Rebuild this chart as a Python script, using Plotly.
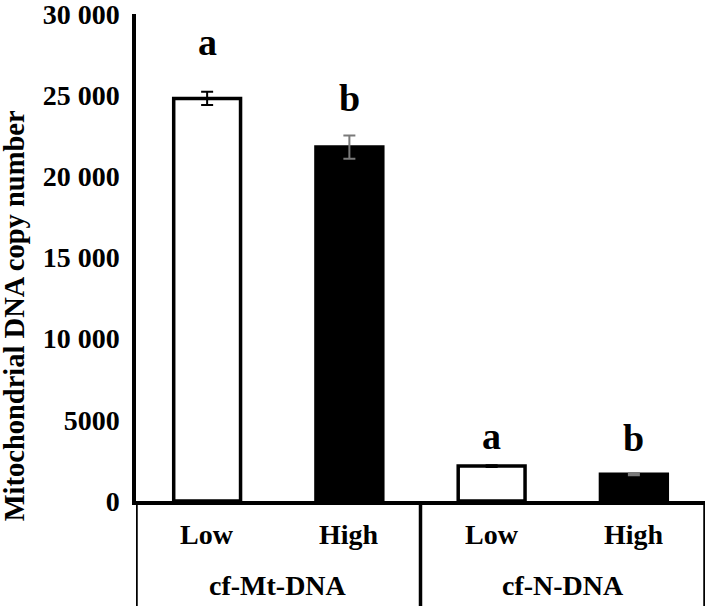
import plotly.graph_objects as go

# ---- data ----
categories = ["cf-Mt-DNA Low", "cf-Mt-DNA High", "cf-N-DNA Low", "cf-N-DNA High"]
level_labels = ["Low", "High", "Low", "High"]
group_labels = ["cf-Mt-DNA", "cf-N-DNA"]
low_cats = ["cf-Mt-DNA Low", "cf-N-DNA Low"]
low_values = [24800, 2150]
low_errors = [410, 50]
high_cats = ["cf-Mt-DNA High", "cf-N-DNA High"]
high_values = [21800, 1650]
high_errors = [720, 60]
sig_letters = ["a", "b", "a", "b"]
tick_values = [0, 5000, 10000, 15000, 20000, 25000, 30000]
tick_text = ["0", "5000", "10 000", "15 000", "20 000", "25 000", "30 000"]
y_title = "Mitochondrial DNA copy number"

FONT = "Liberation Serif, Times New Roman, serif"

fig = go.Figure()
fig.add_trace(go.Bar(
    x=low_cats, y=low_values, width=0.47,
    marker=dict(color="white", line=dict(color="black", width=3.5)),
    error_y=dict(type="data", array=low_errors, color="black", thickness=2, width=6),
    showlegend=False,
))
fig.add_trace(go.Bar(
    x=high_cats, y=high_values, width=0.47,
    marker=dict(color="black", line=dict(color="black", width=3.5)),
    error_y=dict(type="data", array=high_errors, color="#7a7a7a", thickness=2, width=6),
    showlegend=False,
))

annotations = []
# significance letters above bars
all_vals = {c: (v, e) for c, v, e in zip(low_cats + high_cats, low_values + high_values, low_errors + high_errors)}
letter_shift = [50, 37, 29, 35]
for cat, letter, sh in zip(categories, sig_letters, letter_shift):
    v, e = all_vals[cat]
    annotations.append(dict(x=cat, y=v + e, xref="x", yref="y", text=letter, showarrow=False,
                            yanchor="middle", yshift=sh,
                            font=dict(family=FONT, size=38, color="black", weight="bold")))
# level labels
for cat, lab in zip(categories, level_labels):
    annotations.append(dict(x=cat, y=-0.0698, xref="x", yref="paper", text=lab, showarrow=False,
                            yanchor="middle",
                            font=dict(family=FONT, size=28, color="black", weight="bold")))
# group labels
for i, g in enumerate(group_labels):
    annotations.append(dict(x=0.5 + 2 * i, y=-0.1725, xref="x", yref="paper", text=g, showarrow=False,
                            yanchor="middle",
                            font=dict(family=FONT, size=28, color="black", weight="bold")))
# y title
annotations.append(dict(x=-0.212, y=0.38, xref="paper", yref="paper", text=y_title, showarrow=False,
                        textangle=-90, xanchor="center", yanchor="middle",
                        font=dict(family=FONT, size=28.5, color="black", weight="bold")))

shapes = []
for xpos in [-0.5, 1.5, 3.5]:
    shapes.append(dict(type="line", xref="x", yref="paper", x0=xpos, x1=xpos, y0=0, y1=-0.25,
                       line=dict(color="black", width=3.5)))

fig.update_layout(
    width=709, height=606,
    margin=dict(l=136, r=4, t=14, b=105, autoexpand=False),
    paper_bgcolor="white", plot_bgcolor="white",
    barmode="overlay",
    annotations=annotations,
    shapes=shapes,
    xaxis=dict(type="category", categoryorder="array", categoryarray=categories,
               range=[-0.5, 3.5], showticklabels=False, showgrid=False, zeroline=False,
               showline=True, linecolor="black", linewidth=3.5, ticks="", automargin=False),
    yaxis=dict(range=[0, 30000], tickvals=tick_values, ticktext=tick_text,
               showgrid=False, zeroline=False, showline=True, linecolor="black", linewidth=3.5,
               ticks="", ticklabelstandoff=7, ticklabeloverflow="allow", automargin=False,
               tickfont=dict(family=FONT, size=28, color="black", weight="bold")),
)

# remove the page's default body margin so the figure sits at the window's top-left corner
fig.write_html("out.html", config={"displayModeBar": False},
               post_script="document.body.style.margin='0';")
